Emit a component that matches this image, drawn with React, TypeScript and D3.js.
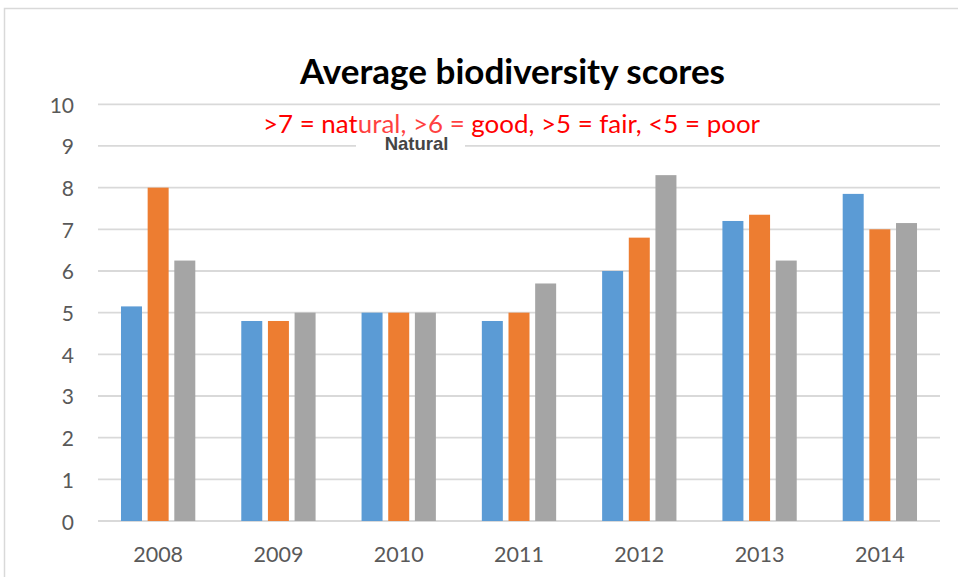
import React from "react";
import * as d3 from "d3";

const categories = ["2008", "2009", "2010", "2011", "2012", "2013", "2014"];
const seriesNames = ["Series1", "Series2", "Series3"];
const series1 = [5.15, 4.8, 5.0, 4.8, 6.0, 7.2, 7.85];
const series2 = [8.0, 4.8, 5.0, 5.0, 6.8, 7.35, 7.0];
const series3 = [6.25, 5.0, 5.0, 5.7, 8.3, 6.25, 7.15];
const yTicks = [0, 1, 2, 3, 4, 5, 6, 7, 8, 9, 10];
const colors = ["#5B9BD5", "#ED7D31", "#A5A5A5"];
const titleText = "Average biodiversity scores";
const subtitleText = ">7 = natural, >6 = good, >5 = fair, <5 = poor";
const overlayText = "Natural";

export default function App() {
  const W = 958;
  const H = 577;
  const left = 98;
  const right = 940;
  const top = 104.3;
  const bottom = 521;
  const allSeries = [series1, series2, series3];

  const y = d3.scaleLinear().domain([0, 10]).range([bottom, top]);
  const gapW = 2.19;
  const overlap = -0.27;
  const step = (right - left) / categories.length;
  const w = step / (3 + 2 * -overlap + gapW);
  const s = -overlap * w;
  const groupW = 3 * w + 2 * s;
  const pad = 1 - groupW / step;
  const x0 = d3
    .scaleBand<string>()
    .domain(categories)
    .range([left, right])
    .paddingInner(pad)
    .paddingOuter(pad / 2);
  const x1 = d3
    .scaleBand<string>()
    .domain(seriesNames)
    .range([0, x0.bandwidth()])
    .paddingInner(s / (w + s))
    .paddingOuter(0);

  const font = "Lato, 'Open Sans', sans-serif";

  return (
    <svg width={W} height={H} style={{ position: "absolute", left: 0, top: 0 }}>
      <rect x={0} y={0} width={W} height={H} fill="#ffffff" />
      <rect x={4.5} y={8.5} width={1100} height={700} fill="#ffffff" stroke="#d9d9d9" strokeWidth={1.5} />
      {yTicks.map((t) => (
        <line
          key={"g" + t}
          x1={left}
          x2={right}
          y1={y(t)}
          y2={y(t)}
          stroke="#d9d9d9"
          strokeWidth={1.8}
        />
      ))}
      {yTicks.map((t) => (
        <text
          key={"yl" + t}
          x={74}
          y={y(t)}
          textAnchor="end"
          dominantBaseline="central"
          fontFamily={font}
          fontSize={21}
          fill="#595959"
        >
          {t}
        </text>
      ))}
      {categories.map((c, i) => (
        <g key={c} transform={`translate(${x0(c)},0)`}>
          {allSeries.map((ser, j) => (
            <rect
              key={j}
              x={x1(seriesNames[j])}
              y={y(ser[i])}
              width={x1.bandwidth()}
              height={y(0) - y(ser[i])}
              fill={colors[j]}
            />
          ))}
        </g>
      ))}
      {categories.map((c) => (
        <text
          key={"xl" + c}
          x={(x0(c) as number) + x0.bandwidth() / 2}
          y={562}
          textAnchor="middle"
          fontFamily={font}
          fontSize={21.5}
          fill="#595959"
        >
          {c}
        </text>
      ))}
      <text
        x={512.5}
        y={84}
        textAnchor="middle"
        fontFamily={font}
        fontWeight="bold"
        fontSize={35}
        fill="#000000"
        textLength={425}
        lengthAdjust="spacingAndGlyphs"
      >
        {titleText}
      </text>
      <text
        x={511.5}
        y={133}
        textAnchor="middle"
        fontFamily={font}
        fontSize={25}
        fill="#ff0000"
        textLength={497}
        lengthAdjust="spacingAndGlyphs"
      >
        {subtitleText}
      </text>
      <rect x={356} y={112} width={109} height={26} fill="#ffffff" opacity={0.25} />
      <rect x={356} y={138} width={109} height={15} fill="#ffffff" />
      <text
        x={416.5}
        y={150}
        textAnchor="middle"
        fontFamily="'Liberation Sans', Arial, sans-serif"
        fontWeight="bold"
        fontSize={18.5}
        fill="#454545"
      >
        {overlayText}
      </text>
    </svg>
  );
}
